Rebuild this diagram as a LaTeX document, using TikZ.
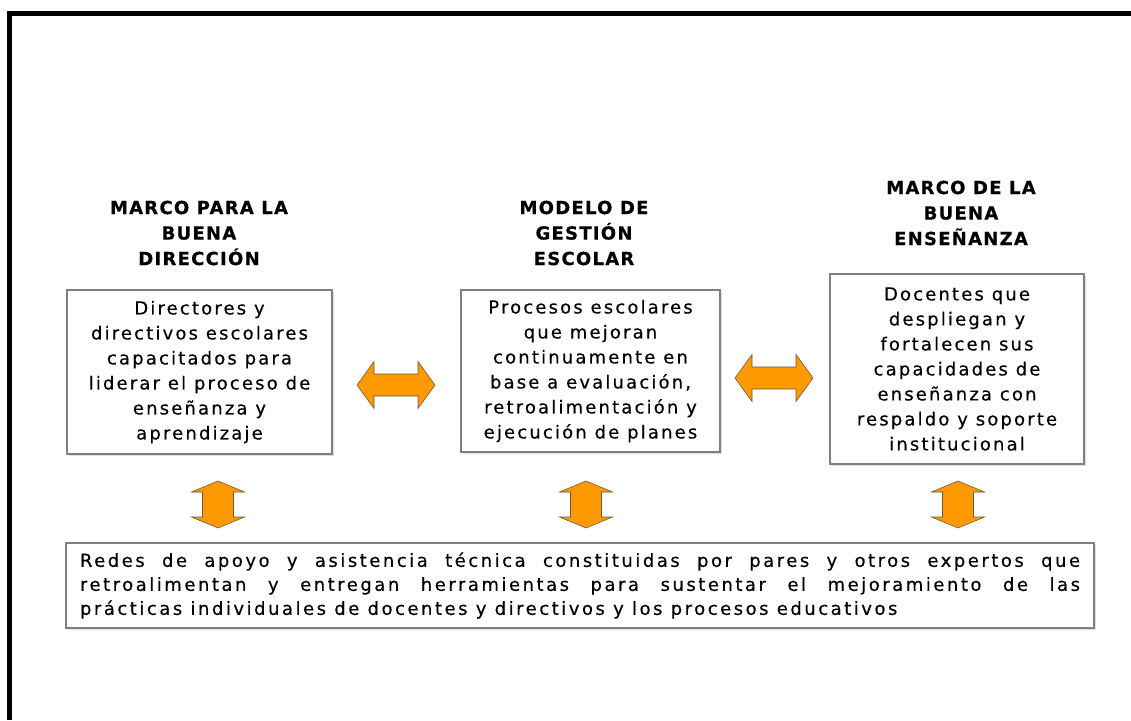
\documentclass[tikz,border=0pt]{standalone}
\usepackage{fontspec}
\setmainfont{DejaVu Sans}[LetterSpace=12,FakeBold=0.4]
\usetikzlibrary{shadows}
\definecolor{arroworange}{RGB}{255,153,0}
\definecolor{arrowedge}{RGB}{110,90,60}
\definecolor{boxgray}{RGB}{128,128,128}
\tikzset{
  textbox/.style={draw=boxgray, line width=1.3pt, fill=white,
    drop shadow={shadow xshift=1.5pt, shadow yshift=-2pt, opacity=0.25},
    inner sep=0pt, align=center, font=\fontsize{18}{25}\selectfont},
  titletext/.style={align=center, font=\fontsize{18}{25.5}\selectfont\bfseries\addfontfeatures{LetterSpace=7}},
  dblarrow/.style={fill=arroworange, draw=arrowedge, line width=0.6pt, line join=miter},
  harrow/.pic={\draw[dblarrow] (-39,0) -- (-22,-23.5) -- (-22,-11) -- (22,-11) -- (22,-23.5) -- (39,0) -- (22,23.5) -- (22,11) -- (-22,11) -- (-22,23.5) -- cycle;},
  varrow/.pic={\draw[dblarrow] (0,-23.5) -- (26.5,-12.5) -- (15.5,-12.5) -- (15.5,12.5) -- (26.5,12.5) -- (0,23.5) -- (-26.5,12.5) -- (-15.5,12.5) -- (-15.5,-12.5) -- (-26.5,-12.5) -- cycle;}
}
\begin{document}
\begin{tikzpicture}[x=1pt,y=-1pt]
\path[use as bounding box] (0,0) rectangle (1131,720);
\fill[black] (7,11) rectangle (1131,16);
\fill[black] (7,11) rectangle (12,720);

\node[titletext] (tdir) at (199,233) {MARCO PARA LA\\BUENA\\DIRECCIÓN};
\node[titletext] (tges) at (584,233) {MODELO DE\\GESTIÓN\\ESCOLAR};
\node[titletext] (tens) at (961,213) {MARCO DE LA\\BUENA\\ENSEÑANZA};

\node[textbox, minimum width=265pt, minimum height=164pt] (dir) at (199.5,372)
  {Directores y\\directivos escolares\\capacitados para\\liderar el proceso de\\enseñanza y\\aprendizaje};
\node[textbox, minimum width=259pt, minimum height=162pt] (ges) at (590.5,371)
  {Procesos escolares\\que mejoran\\continuamente en\\base a evaluación,\\retroalimentación y\\ejecución de planes};
\node[textbox, minimum width=254pt, minimum height=190pt] (ens) at (957,369)
  {Docentes que\\despliegan y\\fortalecen sus\\capacidades de\\enseñanza con\\respaldo y soporte\\institucional};

\node[textbox, minimum width=1028pt, minimum height=85pt, align=left,
      font=\fontsize{18}{24}\selectfont\addfontfeatures{LetterSpace=14}] (redes) at (580,585.5)
  {\makebox[1000pt][s]{Redes de apoyo y asistencia técnica constituidas por pares y otros expertos que}\\
   \makebox[1000pt][s]{retroalimentan y entregan herramientas para sustentar el mejoramiento de las}\\
   \makebox[1000pt][l]{prácticas individuales de docentes y directivos y los procesos educativos}};

\coordinate (h1) at (396,385);
\coordinate (h2) at (774,378);
\coordinate (v1) at (218,504.5);
\coordinate (v2) at (586,504.5);
\coordinate (v3) at (958,504.5);
\pic at (h1) {harrow};
\pic at (h2) {harrow};
\pic at (v1) {varrow};
\pic at (v2) {varrow};
\pic at (v3) {varrow};
\end{tikzpicture}
\end{document}
